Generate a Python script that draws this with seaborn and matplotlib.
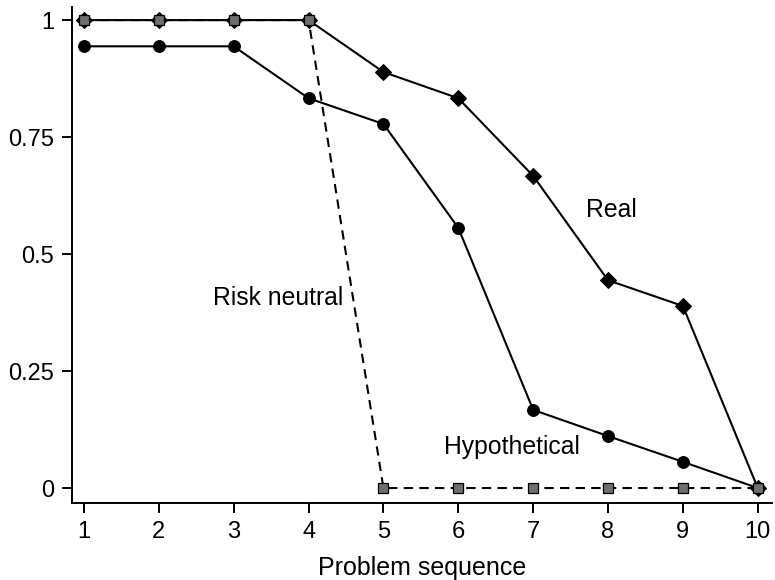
import matplotlib
matplotlib.use("Agg")
import matplotlib.pyplot as plt
import seaborn as sns
import pandas as pd

problems = [1, 2, 3, 4, 5, 6, 7, 8, 9, 10]
real = [1.0, 1.0, 1.0, 1.0, 0.889, 0.833, 0.667, 0.444, 0.389, 0.0]
hypothetical = [0.944, 0.944, 0.944, 0.833, 0.778, 0.556, 0.167, 0.111, 0.056, 0.0]
risk_neutral = [1, 1, 1, 1, 0, 0, 0, 0, 0, 0]

y_ticks = [0, 0.25, 0.5, 0.75, 1]
y_tick_labels = ["0", "0.25", "0.5", "0.75", "1"]

sns.set_theme(style="ticks")
plt.rcParams["font.family"] = ["Liberation Sans", "DejaVu Sans"]
plt.rcParams.update({"text.color": "black", "axes.labelcolor": "black",
                     "xtick.color": "black", "ytick.color": "black"})

fig = plt.figure(figsize=(7.75, 5.8), dpi=100)
ax = fig.add_axes([72 / 775, 77 / 580, 700 / 775, 496 / 580])

df = pd.DataFrame({"problem": problems, "real": real,
                   "hyp": hypothetical, "rn": risk_neutral})

lw = 1.5
sns.lineplot(data=df, x="problem", y="real", ax=ax, color="black",
             linewidth=lw, marker="D", markersize=8.5, markeredgecolor="black",
             markerfacecolor="black", zorder=2)
sns.lineplot(data=df, x="problem", y="hyp", ax=ax, color="black",
             linewidth=lw, marker="o", markersize=8.5, markeredgecolor="black",
             markerfacecolor="black", zorder=3)
sns.lineplot(data=df, x="problem", y="rn", ax=ax, color="black",
             linewidth=lw, linestyle=(0, (4.5, 3)), marker="s", markersize=7.5,
             markeredgecolor="black", markeredgewidth=0.9,
             markerfacecolor="#6f6f6f", zorder=4)

label_fs = 17.8
ax.text(3.59, 0.406, "Risk neutral", fontsize=label_fs, ha="center", va="center")
ax.text(8.05, 0.594, "Real", fontsize=label_fs, ha="center", va="center")
ax.text(6.72, 0.088, "Hypothetical", fontsize=label_fs, ha="center", va="center")

ax.set_xlim(0.84, 10.19)
ax.set_ylim(-0.032, 1.028)
ax.set_xticks(problems)
ax.set_yticks(y_ticks)
ax.set_yticklabels(y_tick_labels)
ax.set_xlabel("Problem sequence", fontsize=18, labelpad=9)
ax.set_ylabel("")
ax.tick_params(axis="both", labelsize=17, length=7, width=1.4, color="black",
               labelcolor="black", direction="out", pad=6)
for side in ["top", "right"]:
    ax.spines[side].set_visible(False)
for side in ["left", "bottom"]:
    ax.spines[side].set_linewidth(1.4)
    ax.spines[side].set_color("black")
ax.grid(False)

fig.savefig("out.png", dpi=100)
